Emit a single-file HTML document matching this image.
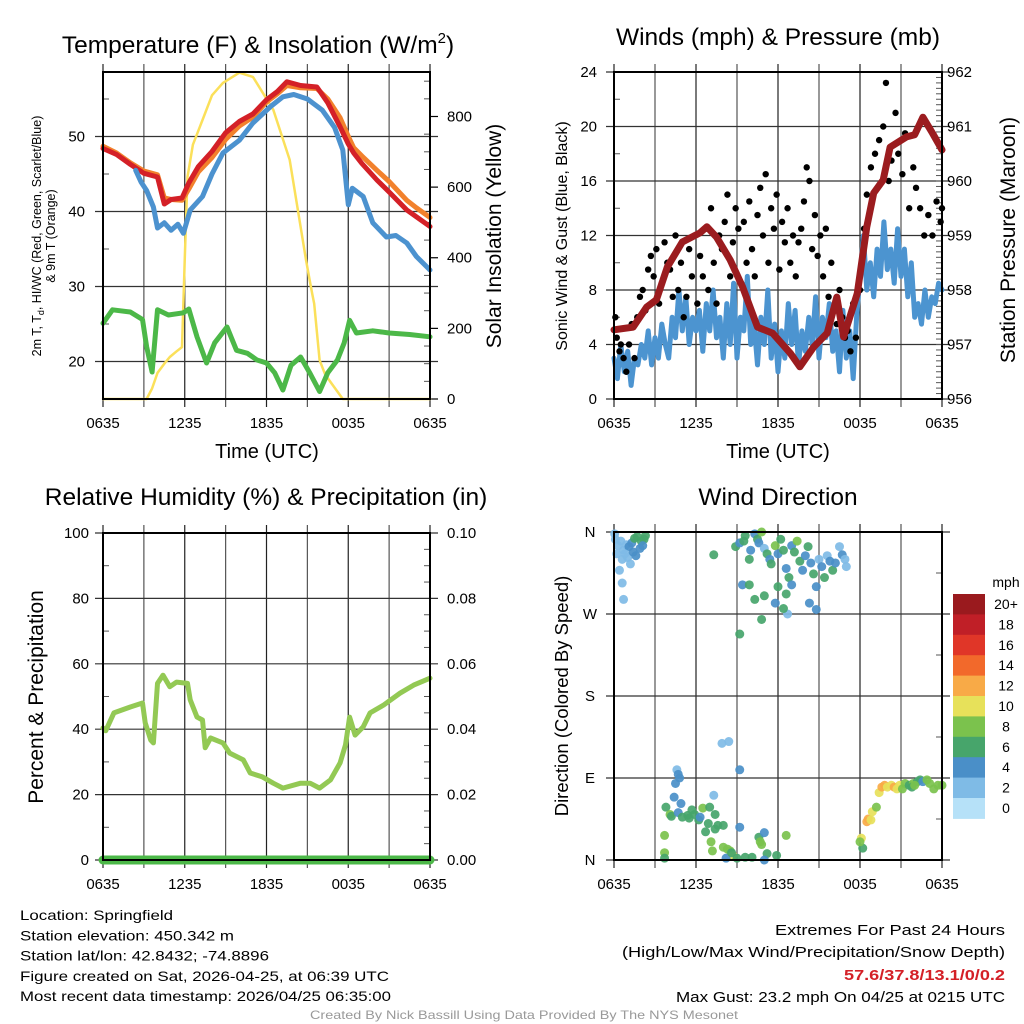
<!DOCTYPE html>
<html><head><meta charset="utf-8"><style>
html,body{margin:0;padding:0;background:#fff}
svg{display:block;font-family:"Liberation Sans",Arial,sans-serif}
</style></head><body>
<svg id="c" width="1024" height="1024" viewBox="0 0 1024 1024"></svg>
<script>
// ---------- data (times in hours since 0635 UTC) ----------
const xLabels=["0635","1235","1835","0035","0635"];
const tempTicks=[20,30,40,50];
const insTicks=[0,200,400,600,800];
const windTicks=[0,4,8,12,16,20,24];
const presTicks=[956,957,958,959,960,961,962];
const rhTicks=[0,20,40,60,80,100];
const precTicks=["0.00","0.02","0.04","0.06","0.08","0.10"];
const dirTicks=["N","E","S","W","N"];
const speedBins=["0","2","4","6","8","10","12","14","16","18","20+"];
const speedColors=["#b6e1f8","#7fbbe6","#4a8fc8","#47a56b","#7bc24d","#e7e15a","#f8aa47","#f2692b","#e03628","#c01f27","#9a1a1e"];

const redT=[0,1,2,3,4,4.5,5,5.8,6.3,7,8,9,10,11,12,12.8,13.5,14.5,15.7,16.5,17.4,18,18.4,19,20.1,21,22.3,23,24];
const redV=[48.4,47.6,46.3,45.1,44.6,41,41.6,41.8,43.8,46,48,50.5,52,53,54.9,56,57.3,56.8,56.6,54.5,51.3,49,47.8,46.4,44.2,42.6,40.2,39.3,38];
const orgT=[0,1,2,3,4,4.5,5,5.8,6.3,7,8,9,10,11,12,12.8,13.5,14.5,15.7,16.5,17.4,18,18.4,19,20.1,21,22.3,23,24];
const orgV=[48.7,47.8,46.5,45.4,44.9,41.8,41.6,41.5,43,45.3,47.2,49.6,51.4,52.6,54.6,55.7,56.8,56.5,56.4,55,52.5,50,48.5,47.4,45.5,44,41.5,40.5,39.2];
const bluT=[2.4,2.8,3.2,3.7,4,4.5,5,5.5,5.9,6.4,7.3,8,8.8,10,11,12.3,13.2,14,15,16.1,17,17.6,18,18.3,19.1,19.8,20.8,21.5,22.3,23,24];
const bluV=[45.5,43.9,42.8,40.6,37.8,38.5,37.5,38.3,37.1,40.2,42,45,47.8,49.5,51.8,54,55.3,55.6,55,53.5,51.2,48.2,40.9,43.1,42,38.5,36.6,36.8,35.8,34,32.2];
const grnT=[0,0.7,2,2.9,3.2,3.6,4,4.8,5.9,6.3,6.9,7.6,8.2,9.1,9.8,10.6,11.3,12,12.6,13.2,13.8,14.5,15.2,15.9,16.5,17.2,17.7,18.1,18.6,19.8,21,22.5,24];
const grnV=[25.1,26.9,26.6,25.6,22,18.6,26.9,26.2,26.5,27,23.3,19.8,22.5,24.6,21.5,21.1,20.2,19.8,18.5,16.2,19.5,20.6,18.4,16,18.5,20.2,22.5,25.5,23.8,24.1,23.8,23.6,23.3];
const insT=[0,3.2,3.6,4,4.5,4.9,5.4,5.8,6.0,6.2,6.6,7.3,8,8.8,10,11,12.5,13.7,14.9,15.2,15.35,15.5,15.9,16.3,16.7,17.6,24];
const insV=[0,0,30,74,100,119,135,147,400,629,720,790,860,895,924,912,819,677,394,330,300,270,110,70,48,0,0];

const windV=[3,1.5,4,2,3.5,1,3,2.5,4, 3,5,2.5,4.5,3,5.5,4,3, 6,4.5,8,5,7.5,4,6,5, 6.5,3.5,7,5,8,4.5,6,3, 7,4,8.5,3,6,5,9,4, 5.5,2.5,6,4,8,3,5.5,2, 5,3,7,4,6.5,2.5,5,3.5, 6,4,7.5,3,6,4.5,7,3.5, 5,2,6.5,3,5,1.5,6,9, 12,8,10,7.5,11,9,13,9.5, 11,8.5,12.5,9,11,7.5,10,6, 7,5.5,8,6,7.5,7,8.5,8];
const gustT=[0.1,0.2,0.4,0.5,0.7,0.9,1.1,1.3,1.5,1.7,1.9,2.1,2.3,2.5,2.7,2.9,3.1,3.3,3.5,3.7,3.9,4.1,4.3,4.5,4.7,4.9,5.1,5.3,5.5,5.7,5.9,6.1,6.3,6.5,6.7,6.9,7.1,7.3,7.5,7.7,7.9,8.1,8.3,8.5,8.7,8.9,9.1,9.3,9.5,9.7,9.9,10.1,10.3,10.5,10.7,10.9,11.1,11.3,11.5,11.7,11.9,12.1,12.3,12.5,12.7,12.9,13.1,13.3,13.5,13.7,13.9,14.1,14.3,14.5,14.7,14.9,15.1,15.3,15.5,15.7,15.9,16.1,16.3,16.5,16.7,16.9,17.1,17.3,17.5,17.7,18,18.3,18.5,18.8,19.1,19.4,19.7,19.9,20.1,20.3,20.6,20.8,21.1,21.3,21.6,21.9,22.1,22.4,22.7,23,23.3,23.6,23.9,24];
const gustV=[6,4.5,3.5,4,3,2,4,5.5,3,6,7.5,8,6.5,9.5,10.5,9,11,7,8.5,11.5,10,9.5,7.5,12,8,10,6,7.5,11,9,12,7,10.5,9,12.5,8,14,10,7,12,11,13,15,9,11.5,14,12.5,8.5,13,10,14.5,11,9,13.5,15.5,12,16.5,10,14,12.5,15,9.5,13,11.5,14,10,12,9,11.5,12.5,14.5,17,16,11,13.5,10.5,12,9,12.5,7.5,10,6.5,5.5,8,6,4.5,5,3.5,7,4.5,8,12.5,15,17,18,19,20,23.2,16,17.5,21,18,16.5,19.5,14,17,15.5,14,12,13.5,12,14.5,13,14];
const presT=[0,1.4,2.4,3.1,3.9,5,6.3,6.8,7.5,8.5,9.4,10.5,11.6,12.9,13.6,14.6,15.6,16.3,16.8,17.8,18.5,19,19.7,20.2,21.4,22,22.6,23.3,24];
const presV=[957.27,957.32,957.69,957.82,958.42,958.88,959.05,959.16,958.97,958.55,958.06,957.32,957.21,956.84,956.59,956.95,957.21,957.87,957.14,957.94,959.16,959.78,960.02,960.62,960.81,960.85,961.17,960.88,960.57];

const rhT=[0,0.2,0.8,2,2.9,3.1,3.5,3.7,4,4.4,4.9,5.4,6.2,6.4,6.9,7.3,7.5,7.9,8.8,9.3,10.3,10.8,11.7,12.5,13.2,14.5,15.2,15.9,16.7,17.4,17.8,18.1,18.5,19.1,19.6,20.6,21.8,22.8,24];
const rhV=[40.4,39.5,45,46.8,48,42,36.7,35.8,54,56.5,53,54.4,54,49,43.7,42.8,34.3,37.3,35.8,32.7,30.6,26.6,25.4,23.5,22,23.5,23.5,22,24.5,29.7,35.2,43.7,38.2,40.7,45,47.4,51,53.5,55.6];
const precT=[0,24];
const precV=[0,0];

const dirData=[
[0.05,358,2],[0.1,352,2],[0.3,345,2],[0.5,350,2],[0.7,340,2],[0.9,346,3],[1.1,344,4],[1.3,348,4],[1.5,353,6],[1.7,355,6],[0.6,330,2],[0.8,336,2],[1.0,332,3],[1.2,325,2],[0.4,318,2],[0.6,304,2],[0.7,286,2],[2.0,350,6],[2.2,352,6],[2.3,356,6],[1.9,342,4],[2.1,345,4],[1.6,334,4],[0.2,336,2],[1.4,338,4],
[7.3,335,6],
[8.9,344,6],[9.2,348,4],[9.5,350,6],[9.6,356,6],[9.9,330,6],[10.0,340,4],[10.3,358,4],[10.5,352,6],[10.6,348,4],[10.8,360,8],[11.0,342,2],[11.2,336,6],[11.4,330,4],[11.5,325,6],[11.8,345,8],[12.0,336,4],[12.2,352,6],[12.4,340,6],[12.6,320,4],[12.8,310,6],[13.0,345,4],[13.2,338,6],[13.4,350,8],[13.6,328,6],[13.8,318,4],[14.0,334,4],[14.2,344,6],[14.4,326,4],[14.6,314,6],[14.8,300,4],[15.0,330,2],[15.2,322,4],[15.4,310,6],[15.6,334,2],[15.8,328,4],[16.0,318,6],[16.2,326,4],[16.5,344,2],[16.7,335,4],[16.9,330,2],[17.0,322,2],[11.0,290,6],[11.8,282,4],[12.7,270,2],[9.4,302,4],[9.9,302,6],[10.3,286,6],[10.8,264,6],[9.2,248,6],[12.4,276,6],[12.6,292,6],[14.3,282,4],[14.8,275,4],[12.0,300,6],[13.0,302,4],
[7.9,128,2],[8.4,130,2],[9.2,99,4],
[4.6,99,2],[4.7,94,4],[4.8,90,4],[4.5,84,4],[4.4,69,4],[4.9,62,4],[3.8,58,6],[4.1,50,8],[4.2,48,6],[4.7,52,4],[5.0,47,6],[5.4,49,6],[5.5,46,6],[5.7,55,6],[5.9,50,6],[6.2,44,6],[6.5,57,8],[6.3,47,4],[7.0,58,6],[7.4,50,6],[6.7,31,6],[6.9,40,6],[7.4,34,6],[7.6,38,6],[8.0,38,6],[7.3,71,2],[7.1,20,8],[7.2,10,8],[8.0,14,8],[8.3,12,8],[8.5,10,8],[8.7,5,10],[9.0,2,6],[8.2,2,4],[9.2,36,4],[10.1,3,6],[10.6,25,6],[10.7,20,8],[11.0,30,4],[10.8,17,8],[11.2,7,6],[11.9,5,6],[12.6,27,8],[11.0,0,4],[3.7,27,8],[3.7,8,8],[3.7,2,6],[8.6,8,6],[9.6,3,6],
[18.2,13,6],[18.1,24,10],[18.0,20,8],[18.5,42,12],[18.6,45,12],[18.8,44,10],[18.9,53,10],[19.2,58,8],[19.4,74,10],[19.6,80,12],[19.8,82,12],[20.0,80,10],[20.3,82,10],[20.5,80,12],[20.7,78,10],[20.9,82,10],[21.1,78,8],[21.3,84,8],[21.6,82,6],[21.9,84,8],[22.2,86,6],[22.4,88,6],[22.6,86,4],[22.9,88,8],[23.1,84,8],[23.4,78,8],[23.7,82,8],[24.0,82,8],[21.8,80,6],[22.0,82,8]
];

// ---------- helpers ----------
const NS="http://www.w3.org/2000/svg";
const svg=document.getElementById('c');
function el(tag,attrs,parent){const e=document.createElementNS(NS,tag);for(const k in attrs)e.setAttribute(k,attrs[k]);(parent||svg).appendChild(e);return e;}
function txt(s,x,y,size,anchor,parent,extra){const t=el('text',Object.assign({x:x,y:y,'font-size':size,'text-anchor':anchor||'middle',fill:'#000'},extra||{}),parent);t.textContent=s;return t;}
function scale(d0,d1,r0,r1){return v=>r0+(v-d0)*(r1-r0)/(d1-d0);}
function pathFrom(ts,vs,sx,sy){let d='';for(let i=0;i<ts.length;i++){if(vs[i]==null)continue;d+=(d?'L':'M')+sx(ts[i]).toFixed(1)+','+sy(vs[i]).toFixed(1);}return d;}

function frame(g,L,R,T,B,sx){
  for(let h=0;h<=24;h+=3){const x=sx(h);
    const gl=el('line',{x1:x,y1:T-8,x2:x,y2:B+8,stroke:(h%6==0)?'#222':'#555','stroke-width':1.2},g);
    }
  xLabels.forEach((s,i)=>{const t=txt(s,sx(i*6),B+29,15,'middle',g);
    });
}
function hgrid(g,L,R,y){const l=el('line',{x1:L-8,y1:y,x2:R+8,y2:y,stroke:'#333','stroke-width':1.2},g);
  }
function box(g,L,R,T,B){const r=el('rect',{x:L,y:T,width:R-L,height:B-T,fill:'none',stroke:'#000','stroke-width':2},g);
  }
function minor(g,x0,dir,ys){ys.forEach(y=>el('line',{x1:x0,y1:y,x2:x0+dir*6,y2:y,stroke:'#555','stroke-width':1},g));}
function line(g,d,color,w,name){const p=el('path',{d:d,fill:'none',stroke:color,'stroke-width':w,'stroke-linejoin':'round','stroke-linecap':'round'},g);
  return p;}

// ---------- panel 1: temperature ----------
(function(){
  const L=103,R=430,T=72,B=399;
  const g=el('g',{});
  const sx=scale(0,24,L,R), sy=scale(15,58.6,B,T), sy2=scale(0,926,B,T);
  frame(g,L,R,T,B,sx);
  tempTicks.forEach(v=>{hgrid(g,L,R,sy(v));const t=txt(String(v),85,sy(v)+5,15,'end',g);
    });
  minor(g,L,1,[25,35,45,55].map(sy));
  insTicks.forEach(v=>{el('line',{x1:R,y1:sy2(v),x2:R+8,y2:sy2(v),stroke:'#000','stroke-width':1.2},g);
    const t=txt(String(v),447,sy2(v)+5,15,'start',g);});
  const mins=[];for(let v=50;v<926;v+=50)if(v%200)mins.push(sy2(v));minor(g,R,-1,mins);
  line(g,pathFrom(insT,insV,sx,sy2),'#fbe05a',2.5,'insolation-line');
  line(g,pathFrom(grnT,grnV,sx,sy),'#4cb848',5,'dewpoint-line');
  line(g,pathFrom(orgT,orgV,sx,sy),'#f2812c',5,'temp-9m-line');
  line(g,pathFrom(redT,redV,sx,sy),'#d42027',5,'temp-2m-line');
  line(g,pathFrom(bluT,bluV,sx,sy),'#4c92cf',5,'wind-chill-line');
  box(g,L,R,T,B);
  const tt=txt('Temperature (F) & Insolation (W/m',258,53,24.5,'middle',g);
  const sup=el('tspan',{dy:-10,'font-size':15},tt);sup.textContent='2';
  const cl=el('tspan',{dy:10},tt);cl.textContent=')';
  
  const a=txt('2m T, T',0,0,12.5,'middle',g,{transform:'translate(41,236) rotate(-90)'});
  const s=el('tspan',{dy:3,'font-size':9},a);s.textContent='d';
  const s2=el('tspan',{dy:-3},a);s2.textContent=', HI/WC (Red, Green, Scarlet/Blue)';
  
  const a2=txt('& 9m T (Orange)',0,0,12.5,'middle',g,{transform:'translate(55,236) rotate(-90)'});
  
  const r=txt('Solar Insolation (Yellow)',0,0,21,'middle',g,{transform:'translate(501,236) rotate(-90)'});
  
  const x=txt('Time (UTC)',267,458,20,'middle',g);
})();

// ---------- panel 2: winds ----------
(function(){
  const L=614,R=942,T=72,B=399;
  const g=el('g',{});
  const sx=scale(0,24,L,R), sy=scale(0,24,B,T), sy2=scale(956,962,B,T);
  frame(g,L,R,T,B,sx);
  windTicks.forEach(v=>{hgrid(g,L,R,sy(v));const t=txt(String(v),597,sy(v)+5,15,'end',g);
    });
  minor(g,L,1,[2,6,10,14,18,22].map(sy));
  presTicks.forEach(v=>{const t=txt(String(v),947,sy2(v)+5,15,'start',g);
    });
  const mins=[];for(let v=956.1;v<962;v+=0.1)mins.push(sy2(v));minor(g,R,-1,mins);
  const wt=windV.map((v,i)=>i*0.25);
  line(g,pathFrom(wt,windV,sx,sy),'#4c94d0',5,'sonic-wind-line');
  gustT.forEach((t,i)=>{const c=el('circle',{cx:sx(t),cy:sy(gustV[i]),r:3.2,fill:'#000'},g);
    });
  line(g,pathFrom(presT,presV,sx,sy2),'#9b1c1f',7,'pressure-line');
  box(g,L,R,T,B);
  const tt=txt('Winds (mph) & Pressure (mb)',778,45,24.5,'middle',g);
  const a=txt('Sonic Wind & Gust (Blue, Black)',0,0,16,'middle',g,{transform:'translate(567,236) rotate(-90)'});
  
  const r=txt('Station Pressure (Maroon)',0,0,21,'middle',g,{transform:'translate(1015,240) rotate(-90)'});
  
  const x=txt('Time (UTC)',778,458,20,'middle',g);
})();

// ---------- panel 3: RH ----------
(function(){
  const L=103,R=430,T=533,B=860;
  const g=el('g',{});
  const sx=scale(0,24,L,R), sy=scale(0,100,B,T), sy2=scale(0,0.1,B,T);
  frame(g,L,R,T,B,sx);
  rhTicks.forEach(v=>{hgrid(g,L,R,sy(v));const t=txt(String(v),89,sy(v)+5,15,'end',g);
    });
  precTicks.forEach((s,i)=>{const t=txt(s,447,sy(i*20)+5,15,'start',g);
    });
  minor(g,L,1,[10,30,50,70,90].map(sy));
  const mins=[];for(let v=5;v<100;v+=5)if(v%20)mins.push(sy(v));minor(g,R,-1,mins);
  line(g,pathFrom(rhT,rhV,sx,sy),'#93c954',5,'rh-line');
  line(g,pathFrom(precT,precV,sx,sy2),'#4cb848',9,'precip-line');
  box(g,L,R,T,B);
  const tt=txt('Relative Humidity (%) & Precipitation (in)',266,505,24.5,'middle',g);
  const a=txt('Percent & Precipitation',0,0,21,'middle',g,{transform:'translate(43,697) rotate(-90)'});
  
})();

// ---------- panel 4: wind direction ----------
(function(){
  const L=614,R=942,T=532,B=860;
  const g=el('g',{});
  const sx=scale(0,24,L,R), sy=scale(0,360,B,T);
  frame(g,L,R,T,B,sx);
  dirTicks.forEach((s,i)=>{const y=sy(i*90);hgrid(g,L,R,y);const t=txt(s,590,y+5,15,'middle',g);
    });
  minor(g,R,-1,[45,135,225,315].map(sy));
  dirData.forEach(p=>{const bin=Math.min(10,Math.floor(p[2]/2));
    const c=el('circle',{cx:sx(p[0]),cy:sy(p[1]),r:4.5,fill:speedColors[bin],'fill-opacity':0.92},g);
    });
  box(g,L,R,T,B);
  const tt=txt('Wind Direction',778,505,24.5,'middle',g);
  const a=txt('Direction (Colored By Speed)',0,0,18.5,'middle',g,{transform:'translate(568,696) rotate(-90)'});
  
  // legend
  const lg=el('g',{});
  const top=594,h=20.4;
  const m=txt('mph',1006,587,14,'middle',lg);
  speedBins.forEach((s,i)=>{const idx=10-i;
    const r=el('rect',{x:953,y:top+i*h,width:32,height:h+0.5,fill:speedColors[idx]},lg);
    
    const t=txt(speedBins[idx],1006,top+i*h+15,14,'middle',lg);
    });
})();

// ---------- footer ----------
(function(){
  const g=el('g',{});
  const lines=["Location: Springfield","Station elevation: 450.342 m","Station lat/lon: 42.8432; -74.8896","Figure created on Sat, 2026-04-25, at 06:39 UTC","Most recent data timestamp: 2026/04/25 06:35:00"];
  const lens=[153,214,249,369,371];
  lines.forEach((s,i)=>{const t=txt(s,20,920+i*20.3,14,'start',g,{textLength:lens[i],lengthAdjust:'spacingAndGlyphs'});
    });
  const r1=txt('Extremes For Past 24 Hours',1005,935,15,'end',g,{textLength:230,lengthAdjust:'spacingAndGlyphs'});
  
  const r2=txt('(High/Low/Max Wind/Precipitation/Snow Depth)',1005,957,15,'end',g,{textLength:383,lengthAdjust:'spacingAndGlyphs'});
  
  const r3=txt('57.6/37.8/13.1/0/0.2',1005,980,15,'end',g,{fill:'#d42027','font-weight':'bold',textLength:161,lengthAdjust:'spacingAndGlyphs'});
  
  const r4=txt('Max Gust: 23.2 mph On 04/25 at 0215 UTC',1005,1002,15,'end',g,{textLength:329,lengthAdjust:'spacingAndGlyphs'});
  
  const c=txt('Created By Nick Bassill Using Data Provided By The NYS Mesonet',524,1019,12,'middle',g,{fill:'#999',textLength:428,lengthAdjust:'spacingAndGlyphs'});
  
})();
</script>
</body></html>
